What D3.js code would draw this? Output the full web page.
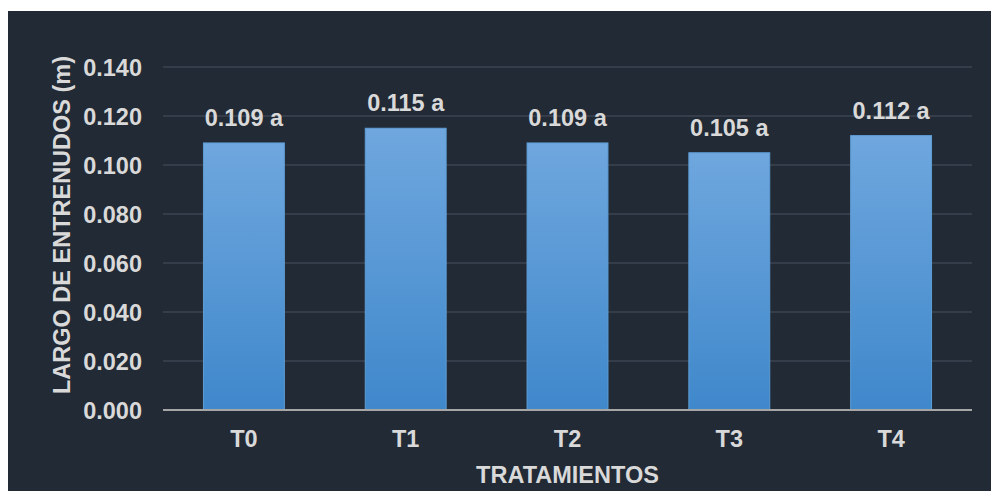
<!DOCTYPE html>
<html lang="es">
<head>
<meta charset="utf-8">
<style>
  body { margin: 0; background: #fff; }
  svg text { font-family: "Liberation Sans", Arial, sans-serif; font-weight: bold; fill: #d9d9d9; }
  .grid line { stroke: #3b4451; stroke-width: 1.5; }
</style>
</head>
<body>
<svg width="991" height="491"></svg>
<script src="https://cdn.jsdelivr.net/npm/d3@7"></script>
<script>
// data
var tratamientos = ["T0", "T1", "T2", "T3", "T4"];
var largo = [0.109, 0.115, 0.109, 0.105, 0.112];
var letras = ["a", "a", "a", "a", "a"];
var ticks = [0, 0.02, 0.04, 0.06, 0.08, 0.10, 0.12, 0.14];

var svg = d3.select("svg");

// dark panel
svg.append("rect")
    .attr("x", 8).attr("y", 11)
    .attr("width", 983).attr("height", 480)
    .attr("fill", "#222a35");

var plotL = 163, plotR = 972, plotT = 67, plotB = 410;
var fs = 23.5;

var x = d3.scaleBand()
    .domain(tratamientos)
    .range([plotL, plotR])
    .paddingInner(0.5)
    .paddingOuter(0.25);

var y = d3.scaleLinear()
    .domain([0, 0.14])
    .range([plotB, plotT]);

var defs = svg.append("defs");
var grad = defs.append("linearGradient")
    .attr("id", "barGrad")
    .attr("x1", 0).attr("y1", 0).attr("x2", 0).attr("y2", 1);
grad.append("stop").attr("offset", "0%").attr("stop-color", "#6fa7de");
grad.append("stop").attr("offset", "100%").attr("stop-color", "#3f88cb");

// gridlines
svg.append("g")
    .attr("class", "grid")
    .selectAll("line")
    .data(ticks.slice(1))
    .enter().append("line")
    .attr("x1", plotL).attr("x2", plotR)
    .attr("y1", function (d) { return y(d); })
    .attr("y2", function (d) { return y(d); });

// y tick labels
svg.append("g")
    .attr("transform", "translate(" + (plotL - 21) + ",0)")
    .call(d3.axisLeft(y).tickValues(ticks).tickSize(0).tickPadding(0)
        .tickFormat(d3.format(".3f")))
    .call(function (g) { g.select(".domain").remove(); })
    .selectAll("text")
    .attr("font-size", fs)
    .attr("dy", "0.36em");

// bars
svg.append("g")
    .selectAll("rect")
    .data(largo)
    .enter().append("rect")
    .attr("x", function (d, i) { return x(tratamientos[i]); })
    .attr("y", function (d) { return y(d); })
    .attr("width", x.bandwidth())
    .attr("height", function (d) { return plotB - y(d); })
    .attr("fill", "url(#barGrad)")
    .attr("stroke", "#5e9dd6")
    .attr("stroke-width", 1);

// value labels
svg.append("g")
    .selectAll("text")
    .data(largo)
    .enter().append("text")
    .attr("x", function (d, i) { return x(tratamientos[i]) + x.bandwidth() / 2; })
    .attr("y", function (d) { return y(d) - 17; })
    .attr("text-anchor", "middle")
    .attr("font-size", fs)
    .text(function (d, i) { return d3.format(".3f")(d) + " " + letras[i]; });

// baseline
svg.append("line")
    .attr("x1", plotL).attr("x2", plotR)
    .attr("y1", plotB).attr("y2", plotB)
    .attr("stroke", "#a6a6a6")
    .attr("stroke-width", 2);

// x tick labels
svg.append("g")
    .attr("transform", "translate(0," + plotB + ")")
    .call(d3.axisBottom(x).tickSize(0).tickPadding(20))
    .call(function (g) { g.select(".domain").remove(); })
    .selectAll("text")
    .attr("font-size", fs);

// axis titles
svg.append("text")
    .attr("x", (plotL + plotR) / 2)
    .attr("y", 483)
    .attr("text-anchor", "middle")
    .attr("font-size", fs)
    .text("TRATAMIENTOS");

svg.append("text")
    .attr("transform", "translate(70,225) rotate(-90)")
    .attr("text-anchor", "middle")
    .attr("font-size", fs)
    .text("LARGO DE ENTRENUDOS (m)");
</script>
</body>
</html>
